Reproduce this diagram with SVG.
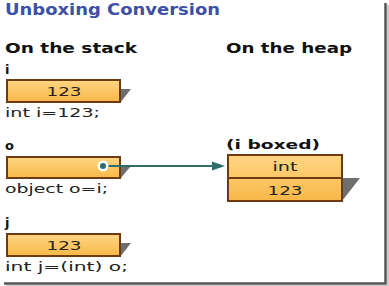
<svg xmlns="http://www.w3.org/2000/svg" width="389" height="286" viewBox="0 0 389 286">
<style>
.title{font-family:"DejaVu Sans",Verdana,sans-serif;font-weight:bold;font-size:15px;fill:#3d4fa6}
.hd{font-family:"DejaVu Sans",Verdana,sans-serif;font-weight:bold;font-size:13.5px;fill:#111}
.lbl{font-family:"DejaVu Sans",Verdana,sans-serif;font-weight:bold;font-size:13px;fill:#111}
.code{font-family:"DejaVu Sans",Verdana,sans-serif;font-size:12px;fill:#222}
.val{font-family:"DejaVu Sans",Verdana,sans-serif;font-size:13px;fill:#222;text-anchor:middle}
.box{fill:url(#g);stroke:#6e3a10;stroke-width:2}
.sh{fill:#6f6f6f}
.frame{stroke:#555;stroke-width:2.5;fill:none}
</style>
<defs>
<linearGradient id="g" x1="0" y1="0" x2="0" y2="1">
<stop offset="0" stop-color="#ffd684"/>
<stop offset="1" stop-color="#f8b848"/>
</linearGradient>
</defs>
<rect width="389" height="286" fill="#fff"/>
<path class="frame" d="M385.5 3 V283.5 H4"/>
<path d="M388 5 V286 H6" stroke="#bbb" stroke-width="1.5" fill="none"/>
<text class="title" x="5" y="15" textLength="215" lengthAdjust="spacingAndGlyphs">Unboxing Conversion</text>
<text class="hd" x="5" y="53" textLength="132" lengthAdjust="spacingAndGlyphs">On the stack</text>
<text class="hd" x="226" y="53" textLength="126" lengthAdjust="spacingAndGlyphs">On the heap</text>
<g id="node-i">
<text class="lbl" x="5" y="74">i</text>
<polygon class="sh" points="120,89 131,89 120,103"/>
<rect class="box" x="7" y="80" width="113" height="22"/>
<text class="val" x="64" y="96" textLength="35" lengthAdjust="spacingAndGlyphs">123</text>
<text class="code" x="5" y="117" textLength="95" lengthAdjust="spacingAndGlyphs">int i=123;</text>
</g>
<g id="node-o">
<text class="lbl" x="5" y="150">o</text>
<polygon class="sh" points="120,166 131,166 120,179"/>
<rect class="box" x="7" y="157" width="113" height="21"/>
<text class="code" x="5" y="193" textLength="103" lengthAdjust="spacingAndGlyphs">object o=i;</text>
</g>
<g id="node-boxed">
<text class="lbl" x="226" y="149" textLength="94" lengthAdjust="spacingAndGlyphs">(i boxed)</text>
<polygon class="sh" points="342,178 360,178 342,201"/>
<rect class="box" x="228" y="155" width="114" height="46"/>
<line x1="228" y1="178" x2="342" y2="178" stroke="#6e3a10" stroke-width="2"/>
<text class="val" x="285" y="171" textLength="25" lengthAdjust="spacingAndGlyphs">int</text>
<text class="val" x="285" y="195" textLength="35" lengthAdjust="spacingAndGlyphs">123</text>
</g>
<g id="node-j">
<text class="lbl" x="5" y="227">j</text>
<polygon class="sh" points="120,243 131,243 120,257"/>
<rect class="box" x="7" y="234" width="113" height="22"/>
<text class="val" x="64" y="250" textLength="35" lengthAdjust="spacingAndGlyphs">123</text>
<text class="code" x="5" y="271" textLength="123" lengthAdjust="spacingAndGlyphs">int j=(int) o;</text>
</g>
<g id="connectors">
<line x1="103" y1="166" x2="214" y2="166" stroke="#2f6d6d" stroke-width="2"/>
<polygon points="212,161.5 225,166 212,170.5" fill="#2f6d6d"/>
<circle cx="103" cy="166" r="5.5" fill="#fff"/>
<circle cx="103" cy="166" r="3" fill="#2f6d6d"/>
</g>
</svg>
